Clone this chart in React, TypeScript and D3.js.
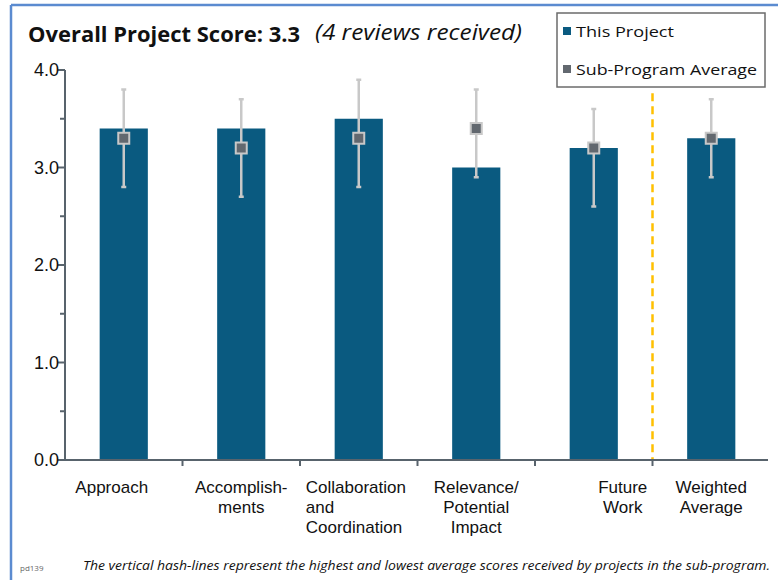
import React from "react";
import * as d3 from "d3";

const categories: string[][] = [
  ["Approach"],
  ["Accomplish-", "ments"],
  ["Collaboration", "and", "Coordination"],
  ["Relevance/", "Potential", "Impact"],
  ["Future", "Work"],
  ["Weighted", "Average"],
];
const projectScores = [3.4, 3.4, 3.5, 3.0, 3.2, 3.3];
const subProgramAvg = [3.3, 3.2, 3.3, 3.4, 3.2, 3.3];
const rangeHigh = [3.8, 3.7, 3.9, 3.8, 3.6, 3.7];
const rangeLow = [2.8, 2.7, 2.8, 2.9, 2.6, 2.9];
const yTicks = [0, 1, 2, 3, 4];
const yMinorTicks = [0.5, 1.5, 2.5, 3.5];

const W = 778;
const H = 580;
const BAR = "#0A5A80";
const MARK = "#62686f";
const WHISK = "#c8c8c8";
const AXIS = "#58636c";
const LABEL_FONT = "'Liberation Sans', Arial, sans-serif";
const CAL = "'Open Sans', 'Noto Sans', sans-serif";

// label layout (alignment per category)
const labelAnchor = ["middle", "middle", "start", "middle", "middle", "middle"];
const labelDx = [-12, 0, -53, 0, 29, 0];

export default function App() {
  const x = d3
    .scaleBand<number>()
    .domain(d3.range(categories.length))
    .range([65, 770])
    .paddingInner(0)
    .paddingOuter(0);
  const y = d3.scaleLinear().domain([0, 4]).range([460, 70]);
  const bw = x.bandwidth();
  const barW = bw * 0.41;
  const cx = (i: number) => (x(i) as number) + bw / 2;
  const dividerX = x(5) as number;

  return (
    <svg
      width={W}
      height={H}
      style={{ position: "absolute", left: 0, top: 0, background: "#fff" }}
    >
      {/* frame */}
      <line x1={11} y1={5} x2={W} y2={5} stroke="#5b8bd0" strokeWidth={2.5} />
      <line x1={11} y1={5} x2={11} y2={H} stroke="#5b8bd0" strokeWidth={2.5} />

      {/* title */}
      <text x={28} y={42} fontFamily={CAL} fontSize={21} fontWeight={700} fill="#111" textLength={272} lengthAdjust="spacingAndGlyphs">
        Overall Project Score: 3.3
      </text>
      <text x={315} y={40} fontFamily={CAL} fontSize={21} fontStyle="italic" fill="#111" textLength={207} lengthAdjust="spacingAndGlyphs">
        (4 reviews received)
      </text>

      {/* bars */}
      {projectScores.map((v, i) => (
        <rect key={"b" + i} x={cx(i) - barW / 2} y={y(v)} width={barW} height={y(0) - y(v)} fill={BAR} />
      ))}

      {/* divider */}
      <line x1={dividerX} x2={dividerX} y1={y(3.7) - 6} y2={y(0)} stroke="#FFC000" strokeWidth={2.5} strokeDasharray="8,5" />

      {/* whiskers */}
      {rangeHigh.map((hi, i) => (
        <g key={"w" + i} stroke={WHISK} strokeWidth={2.5}>
          <line x1={cx(i)} x2={cx(i)} y1={y(hi)} y2={y(rangeLow[i])} />
          <line x1={cx(i) - 2.5} x2={cx(i) + 2.5} y1={y(hi)} y2={y(hi)} />
          <line x1={cx(i) - 2.5} x2={cx(i) + 2.5} y1={y(rangeLow[i])} y2={y(rangeLow[i])} />
        </g>
      ))}

      {/* markers */}
      {subProgramAvg.map((v, i) => (
        <rect key={"m" + i} x={cx(i) - 5.5} y={y(v) - 5.5} width={11} height={11} fill={MARK} stroke={WHISK} strokeWidth={2} />
      ))}

      {/* y axis */}
      <line x1={65} x2={65} y1={y(4)} y2={y(0)} stroke={AXIS} strokeWidth={2} />
      {yTicks.map((t) => (
        <g key={"yt" + t}>
          <line x1={58} x2={65} y1={y(t)} y2={y(t)} stroke={AXIS} strokeWidth={2} />
          <text x={59} y={y(t)} dy="0.36em" textAnchor="end" fontFamily={LABEL_FONT} fontSize={18} fill="#111">
            {t.toFixed(1)}
          </text>
        </g>
      ))}
      {yMinorTicks.map((t) => (
        <line key={"ym" + t} x1={60} x2={65} y1={y(t)} y2={y(t)} stroke={AXIS} strokeWidth={2} />
      ))}

      {/* x axis */}
      <line x1={65} x2={768} y1={y(0)} y2={y(0)} stroke={AXIS} strokeWidth={2} />
      {d3.range(1, categories.length).map((i) => (
        <line key={"xt" + i} x1={x(i) as number} x2={x(i) as number} y1={y(0)} y2={y(0) + 6} stroke={AXIS} strokeWidth={2} />
      ))}

      {/* x labels */}
      {categories.map((lines, i) => (
        <text
          key={"xl" + i}
          x={cx(i) + labelDx[i]}
          y={493}
          textAnchor={labelAnchor[i] as any}
          fontFamily={LABEL_FONT}
          fontSize={17}
          fill="#111"
        >
          {lines.map((l, j) => (
            <tspan key={j} x={cx(i) + labelDx[i]} dy={j === 0 ? 0 : 20}>
              {l}
            </tspan>
          ))}
        </text>
      ))}

      {/* legend */}
      <rect x={557} y={13} width={208} height={74} fill="#fff" stroke="#6b6b6b" strokeWidth={1.5} />
      <rect x={563} y={27} width={8} height={8} fill={BAR} />
      <text x={576} y={37} fontFamily={CAL} fontSize={15} fill="#111" textLength={98} lengthAdjust="spacingAndGlyphs">
        This Project
      </text>
      <rect x={563} y={65} width={8} height={8} fill={MARK} />
      <text x={576} y={75} fontFamily={CAL} fontSize={15} fill="#111" textLength={181} lengthAdjust="spacingAndGlyphs">
        Sub-Program Average
      </text>

      {/* footnotes */}
      <text x={20} y={571} fontFamily={CAL} fontSize={8} fill="#666">
        pd139
      </text>
      <text x={83} y={570} fontFamily={CAL} fontSize={12} fontStyle="italic" fill="#111" textLength={687} lengthAdjust="spacingAndGlyphs">
        The vertical hash-lines represent the highest and lowest average scores received by projects in the sub-program.
      </text>
    </svg>
  );
}
